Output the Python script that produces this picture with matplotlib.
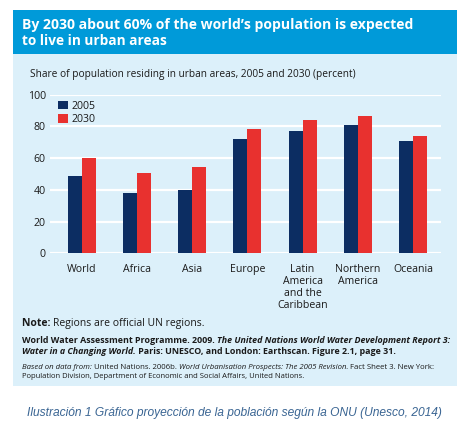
import matplotlib
matplotlib.use("Agg")
import matplotlib.pyplot as plt
from matplotlib.patches import Rectangle
import numpy as np

categories = ["World", "Africa", "Asia", "Europe", "Latin\nAmerica\nand the\nCaribbean",
              "Northern\nAmerica", "Oceania"]
values_2005 = [48.7, 38.3, 39.8, 72.2, 77.4, 80.7, 70.8]
values_2030 = [59.9, 50.7, 54.1, 78.3, 84.3, 86.7, 73.8]
series_labels = ["2005", "2030"]
yticks = [0, 20, 40, 60, 80, 100]

W, H = 472, 434
FONT = "Open Sans"
NAVY = "#0c2d62"
RED = "#e8312f"
PANEL = "#dcf0fa"
BAND = "#009ad9"
TEXT = "#1a1a1a"

fig = plt.figure(figsize=(W / 100, H / 100), dpi=100)
fig.patch.set_facecolor("white")


def fx(x):
    return x / W


def fy(y):
    return 1 - y / H


# background panel and title band
fig.patches.append(Rectangle((fx(13), fy(386)), fx(457) - fx(13), fy(54) - fy(386),
                             transform=fig.transFigure, facecolor=PANEL, edgecolor="none", zorder=-5))
fig.patches.append(Rectangle((fx(13), fy(54)), fx(457) - fx(13), fy(10) - fy(54),
                             transform=fig.transFigure, facecolor=BAND, edgecolor="none", zorder=-5))

# axes
x0, x1 = 50, 441
ytop, ybot = 94.7, 253.3
ax = fig.add_axes([fx(x0), fy(ybot), fx(x1) - fx(x0), fy(ytop) - fy(ybot)])
ax.set_zorder(2)
ax.patch.set_visible(False)
spacing = (413 - 81.7) / 6
ax.set_xlim(-(81.7 - x0) / spacing, 6 + (x1 - 413) / spacing)
ax.set_ylim(0, 100)
for s in ax.spines.values():
    s.set_visible(False)
ax.set_yticks(yticks)
ax.set_yticklabels([str(t) for t in yticks], family=FONT, size=7.6, color=TEXT)
ax.tick_params(axis="y", length=0, pad=3)
ax.tick_params(axis="x", length=0, pad=8)
ax.yaxis.grid(True, color="white", linewidth=1.6)
ax.set_axisbelow(True)

x = np.arange(len(categories))
bw = 14 / spacing
ax.bar(x - bw / 2, values_2005, width=bw, color=NAVY, label=series_labels[0], zorder=2)
ax.bar(x + bw / 2, values_2030, width=bw, color=RED, label=series_labels[1], zorder=2)
ax.set_xticks(x)
ax.set_xticklabels(categories, family=FONT, size=7.6, color=TEXT, linespacing=1.1, va="top")

leg = ax.legend(loc="upper left", bbox_to_anchor=(fx(58), fy(100.5)), bbox_transform=fig.transFigure,
                frameon=False, prop={"family": FONT, "size": 7.6}, handlelength=0.9, handleheight=0.9,
                handletextpad=0.4, labelspacing=0.25, borderpad=0, borderaxespad=0)
for t in leg.get_texts():
    t.set_color(TEXT)

fig.canvas.draw()
renderer = fig.canvas.get_renderer()


def seg_line(xp, yp, segments, size, color=TEXT, target=None, family=FONT):
    """Draw a line made of differently styled pieces on a shared baseline;
    yp is the approximate vertical centre of the capitals; optionally fit to a target pixel width."""
    def place(sz):
        arts = []
        cur = fx(xp)
        base = yp + 0.36 * sz * 100 / 72
        for txt, weight, style in segments:
            t = fig.text(cur, fy(base), txt, family=family, weight=weight, style=style,
                         size=sz, color=color, va="baseline", ha="left")
            bb = t.get_window_extent(renderer=renderer)
            cur += bb.width / fig.bbox.width
            arts.append(t)
        return arts, cur * W - xp
    arts, width = place(size)
    if target is not None:
        for a in arts:
            a.remove()
        arts, width = place(size * target / width)
    return arts


seg_line(22, 24, [("By 2030 about 60% of the world\u2019s population is expected", "bold", "normal")],
         10.6, color="white", target=393)
seg_line(22, 40.5, [("to live in urban areas", "bold", "normal")], 10.6, color="white", target=145)
seg_line(30, 73, [("Share of population residing in urban areas, 2005 and 2030 (percent)", "normal", "normal")],
         7.4, target=324)

seg_line(22, 322, [("Note: ", "bold", "normal"), ("Regions are official UN regions.", "normal", "normal")],
         7.4, target=181)
seg_line(22, 340, [("World Water Assessment Programme. 2009. ", "bold", "normal"),
                   ("The United Nations World Water Development Report 3:", "bold", "italic")], 6.5,
         target=425)
seg_line(22, 351, [("Water in a Changing World.", "bold", "italic"),
                   (" Paris: UNESCO, and London: Earthscan. Figure 2.1, page 31.", "bold", "normal")], 6.5,
         target=371)
seg_line(22, 366, [("Based on data from:", "normal", "italic"),
                   (" United Nations. 2006b. ", "normal", "normal"),
                   ("World Urbanisation Prospects: The 2005 Revision.", "normal", "italic"),
                   (" Fact Sheet 3. New York:", "normal", "normal")], 5.6, target=411)
seg_line(22, 375.5, [("Population Division, Department of Economic and Social Affairs, United Nations.",
                      "normal", "normal")], 5.6, target=283)

seg_line(27, 412, [("Ilustración 1 Gráfico proyección de la población según la ONU (Unesco, 2014)",
                    "normal", "italic")], 8.3, color="#3a6593", target=416, family="Liberation Sans")

fig.savefig("out.png", dpi=100, facecolor=fig.get_facecolor())
